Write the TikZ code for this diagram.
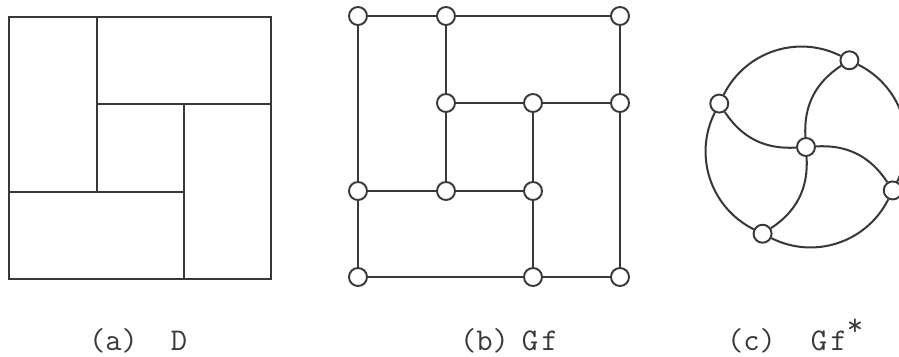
\documentclass[tikz,border=0pt]{standalone}
\usepackage{xcolor}
\usepackage{tikz}
\usetikzlibrary{calc}
\colorlet{inkgray}{black!78}

\tikzset{
  vtx/.style={circle, draw=inkgray, fill=white, line width=1.1pt, inner sep=0pt, minimum size=0.36cm},
  captext/.style={anchor=base west, inner sep=0pt, text=inkgray, font=\fontsize{18}{20}\selectfont\ttfamily}
}

\begin{document}
\begin{tikzpicture}[x=0.02cm, y=0.02cm, line width=1.15pt, draw=inkgray]
  \useasboundingbox (0,0) rectangle (899,356);

  % (a) the dissection D
  \draw[inkgray] (9,339) rectangle (271,77);
  \draw[inkgray] (97,339) -- (97,164) (9,164) -- (184,164)
    (97,252) -- (271,252) (184,252) -- (184,77);

  % (b) the graph Gf
  \foreach \n/\x/\y in {a1/358/340, a2/446/340, a4/620/340,
      b2/446/253, b3/533/253, b4/620/253,
      c1/358/165, c2/446/165, c3/533/165,
      d1/358/79, d3/533/79, d4/620/79}
    \node[vtx] (\n) at (\x,\y) {};
  \draw[inkgray] (a1) -- (a2) -- (a4) -- (b4) -- (d4) -- (d3) -- (d1) -- (c1) -- (a1);
  \draw[inkgray] (a2) -- (b2) -- (c2) (b2) -- (b3) -- (b4) (b3) -- (c3) -- (d3)
    (c1) -- (c2) -- (c3);

  % (c) the dual Gf*
  \coordinate (o) at (806,209);
  \node[vtx] (q1) at ($(o)+(63.4:97)$) {};
  \node[vtx] (q2) at ($(o)+(153.4:97)$) {};
  \node[vtx] (q3) at ($(o)+(-116.6:97)$) {};
  \node[vtx] (q4) at ($(o)+(-26.6:97)$) {};
  \node[vtx] (ctr) at (o) {};
  \foreach \p/\q in {q1/q2, q2/q3, q3/q4, q4/q1}
    \draw[inkgray] (\p) to[bend right=45] (\q);
  \foreach \q in {q1,q2,q3,q4}
    \draw[inkgray] (ctr) to[bend left=30] (\q);

  % captions
  \node[captext] (capa) at (88,6) {(a)\hspace{0.66cm}D};
  \node[captext] (capb) at (459,6) {(b)\hspace{0.26cm}G\hspace{2pt}f};
  \node[captext] (capc) at (726,6) {(c)\hspace{0.7cm}G\hspace{2pt}f\raisebox{0.45em}{*}};
\end{tikzpicture}
\end{document}
